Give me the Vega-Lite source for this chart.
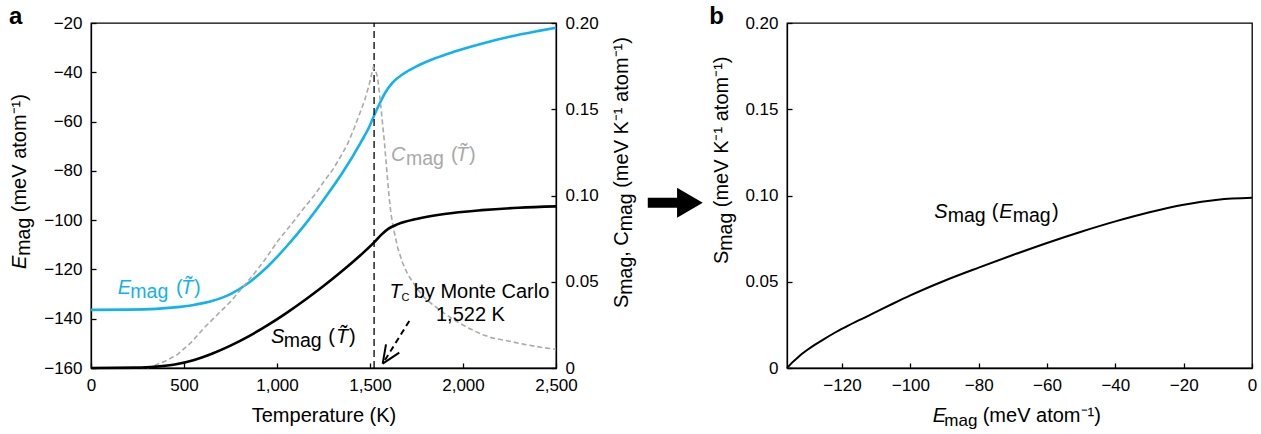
{
  "$schema": "https://vega.github.io/schema/vega-lite/v6.json",
  "padding": {"left": 8, "top": 4, "right": 5, "bottom": 5},
  "bounds": "flush",
  "spacing": 231,
  "config": {
    "font": "Liberation Sans",
    "view": {"stroke": "black", "strokeWidth": 1.3},
    "axis": {
      "domainColor": "black", "domainWidth": 1.3,
      "tickColor": "black", "tickWidth": 1.3, "tickSize": -5,
      "labelFontSize": 17, "labelColor": "black", "labelPadding": 14,
      "labelFlush": false, "labelOverlap": false, "grid": false,
      "titleFontSize": 20, "titleFontWeight": "normal", "titleColor": "black", "titlePadding": 12
    }
  },
  "datasets": {
    "emag": [
      {"T": 0, "E": -136.4}, {"T": 200, "E": -136.3}, {"T": 350, "E": -136.0}, {"T": 450, "E": -135.4},
      {"T": 550, "E": -134.4}, {"T": 650, "E": -132.8}, {"T": 750, "E": -130.0}, {"T": 850, "E": -125.3},
      {"T": 950, "E": -118.8}, {"T": 1050, "E": -110.8}, {"T": 1150, "E": -101.8}, {"T": 1250, "E": -91.8},
      {"T": 1350, "E": -81.0}, {"T": 1450, "E": -68.5}, {"T": 1500, "E": -61.5}, {"T": 1522, "E": -57.5},
      {"T": 1550, "E": -53.0}, {"T": 1580, "E": -48.5}, {"T": 1620, "E": -44.3}, {"T": 1680, "E": -40.6},
      {"T": 1750, "E": -37.6}, {"T": 1850, "E": -34.3}, {"T": 1950, "E": -31.7}, {"T": 2100, "E": -28.4},
      {"T": 2250, "E": -25.6}, {"T": 2400, "E": -23.3}, {"T": 2500, "E": -21.9}
    ],
    "smag": [
      {"T": 0, "S": 0}, {"T": 250, "S": 0.0002}, {"T": 350, "S": 0.0008}, {"T": 450, "S": 0.002},
      {"T": 550, "S": 0.0045}, {"T": 650, "S": 0.0083}, {"T": 750, "S": 0.013}, {"T": 850, "S": 0.0185},
      {"T": 950, "S": 0.0248}, {"T": 1050, "S": 0.0318}, {"T": 1150, "S": 0.0394}, {"T": 1250, "S": 0.0475},
      {"T": 1350, "S": 0.0562}, {"T": 1450, "S": 0.0655}, {"T": 1522, "S": 0.0728}, {"T": 1560, "S": 0.0772},
      {"T": 1600, "S": 0.0808}, {"T": 1650, "S": 0.0834}, {"T": 1750, "S": 0.0864}, {"T": 1900, "S": 0.0893},
      {"T": 2100, "S": 0.0915}, {"T": 2300, "S": 0.0929}, {"T": 2500, "S": 0.0937}
    ],
    "cmag": [
      {"T": 0, "S": 0}, {"T": 300, "S": 0}, {"T": 330, "S": 0.001}, {"T": 400, "S": 0.004},
      {"T": 466, "S": 0.0079}, {"T": 540, "S": 0.015}, {"T": 609, "S": 0.0234}, {"T": 680, "S": 0.031},
      {"T": 753, "S": 0.0388}, {"T": 860, "S": 0.0524}, {"T": 930, "S": 0.062}, {"T": 1004, "S": 0.0736},
      {"T": 1075, "S": 0.083}, {"T": 1147, "S": 0.093}, {"T": 1200, "S": 0.1}, {"T": 1254, "S": 0.1084},
      {"T": 1300, "S": 0.115}, {"T": 1344, "S": 0.1229}, {"T": 1380, "S": 0.13}, {"T": 1416, "S": 0.1393},
      {"T": 1450, "S": 0.149}, {"T": 1470, "S": 0.1548}, {"T": 1495, "S": 0.164}, {"T": 1518, "S": 0.1745},
      {"T": 1530, "S": 0.1725}, {"T": 1541, "S": 0.1683}, {"T": 1550, "S": 0.16}, {"T": 1559, "S": 0.1509},
      {"T": 1568, "S": 0.141}, {"T": 1577, "S": 0.1316}, {"T": 1586, "S": 0.12}, {"T": 1595, "S": 0.1084},
      {"T": 1604, "S": 0.098}, {"T": 1613, "S": 0.0891}, {"T": 1630, "S": 0.079}, {"T": 1649, "S": 0.0697},
      {"T": 1675, "S": 0.061}, {"T": 1703, "S": 0.0543}, {"T": 1750, "S": 0.0465}, {"T": 1792, "S": 0.0408},
      {"T": 1840, "S": 0.0365}, {"T": 1882, "S": 0.033}, {"T": 1950, "S": 0.028}, {"T": 2025, "S": 0.0234},
      {"T": 2100, "S": 0.0195}, {"T": 2151, "S": 0.0176}, {"T": 2250, "S": 0.0155}, {"T": 2330, "S": 0.0137},
      {"T": 2420, "S": 0.012}, {"T": 2500, "S": 0.0108}
    ],
    "sofe": [
      {"E": -136.1, "S": 0}, {"E": -135.3, "S": 0.0017}, {"E": -134.3, "S": 0.0037}, {"E": -133, "S": 0.006},
      {"E": -131.5, "S": 0.0085}, {"E": -130, "S": 0.0107}, {"E": -128, "S": 0.0134}, {"E": -125.5, "S": 0.0165},
      {"E": -122.5, "S": 0.02}, {"E": -119, "S": 0.0237}, {"E": -115, "S": 0.0277}, {"E": -110, "S": 0.0325},
      {"E": -105, "S": 0.0374}, {"E": -100, "S": 0.0421}, {"E": -90, "S": 0.0506}, {"E": -80, "S": 0.0582},
      {"E": -70, "S": 0.0655}, {"E": -60, "S": 0.0725}, {"E": -50, "S": 0.079}, {"E": -40, "S": 0.085},
      {"E": -30, "S": 0.0903}, {"E": -20, "S": 0.0947}, {"E": -10, "S": 0.0976}, {"E": 0, "S": 0.0987}
    ]
  },
  "hconcat": [
    {
      "width": 465,
      "height": 345,
      "encoding": {
        "x": {
          "field": "T", "type": "quantitative",
          "scale": {"domain": [0, 2500], "nice": false, "zero": false},
          "axis": {"values": [0, 500, 1000, 1500, 2000, 2500], "format": ",d", "title": "Temperature (K)"}
        }
      },
      "layer": [
        {
          "encoding": {
            "y": {
              "field": "E", "type": "quantitative",
              "scale": {"domain": [-160, -20], "nice": false, "zero": false},
              "axis": {"orient": "left", "values": [-160, -140, -120, -100, -80, -60, -40, -20], "title": null}
            }
          },
          "layer": [
            {
              "data": {"name": "emag"},
              "mark": {"type": "line", "color": "#12b3ec", "strokeWidth": 2.6, "interpolate": "monotone"}
            },
            {
              "data": {"values": [{"T": 1522, "E": -160, "E2": -20}]},
              "mark": {"type": "rule", "color": "black", "strokeWidth": 1.3, "strokeDash": [7, 4]},
              "encoding": {"y2": {"field": "E2"}}
            },
            {
              "data": {"values": [{"T": -440.9, "E": -20.41, "t": "a"}]},
              "mark": {"type": "text", "fontSize": 24, "fontWeight": "bold", "align": "left", "baseline": "alphabetic", "color": "black"},
              "encoding": {"text": {"field": "t"}}
            },
            {
              "data": {"values": [{"T": -349.5, "E": -119.83, "t": "E"}]},
              "mark": {"type": "text", "angle": 270, "fontSize": 20, "fontStyle": "italic", "align": "left", "baseline": "alphabetic", "color": "black"},
              "encoding": {"text": {"field": "t"}}
            },
            {
              "data": {"values": [{"T": -328.0, "E": -114.43, "t": "mag"}]},
              "mark": {"type": "text", "angle": 270, "fontSize": 19.5, "align": "left", "baseline": "alphabetic", "color": "black"},
              "encoding": {"text": {"field": "t"}}
            },
            {
              "data": {"values": [{"T": -349.5, "E": -96.78, "t": "(meV atom\u207b\u00b9)"}]},
              "mark": {"type": "text", "angle": 270, "fontSize": 20, "align": "left", "baseline": "alphabetic", "color": "black"},
              "encoding": {"text": {"field": "t"}}
            },
            {
              "data": {"values": [{"T": 143.5, "E": -130.1, "t": "E"}, {"T": 483.9, "E": -130.1, "t": "T\u0303"}]},
              "mark": {"type": "text", "fontSize": 20, "fontStyle": "italic", "align": "left", "baseline": "alphabetic", "color": "#12b3ec"},
              "encoding": {"text": {"field": "t"}}
            },
            {
              "data": {"values": [{"T": 211.3, "E": -131.72, "t": "mag"}]},
              "mark": {"type": "text", "fontSize": 19.5, "align": "left", "baseline": "alphabetic", "color": "#12b3ec"},
              "encoding": {"text": {"field": "t"}}
            },
            {
              "data": {"values": [{"T": 457.0, "E": -130.1, "t": "("}, {"T": 553.8, "E": -130.1, "t": ")"}]},
              "mark": {"type": "text", "fontSize": 20, "align": "left", "baseline": "alphabetic", "color": "#12b3ec"},
              "encoding": {"text": {"field": "t"}}
            }
          ]
        },
        {
          "encoding": {
            "y": {
              "field": "S", "type": "quantitative",
              "scale": {"domain": [0, 0.2], "nice": false, "zero": false},
              "axis": {
                "orient": "right", "values": [0, 0.05, 0.1, 0.15, 0.2], "title": null,
                "labelExpr": "datum.value == 0 ? '0' : format(datum.value, '.2f')"
              }
            }
          },
          "layer": [
            {
              "data": {"name": "cmag"},
              "mark": {"type": "line", "color": "#aaaaaa", "strokeWidth": 1.6, "strokeDash": [5, 3], "interpolate": "linear"}
            },
            {
              "data": {"name": "smag"},
              "mark": {"type": "line", "color": "black", "strokeWidth": 2.6, "interpolate": "monotone"}
            },
            {
              "data": {"values": [{"T": 1711.3, "S": 0.02725, "T2": 1568.3, "S2": 0.0025}]},
              "mark": {"type": "rule", "color": "black", "strokeWidth": 2, "strokeDash": [6, 4]},
              "encoding": {"x2": {"field": "T2"}, "y2": {"field": "S2"}}
            },
            {
              "data": {"values": [
                {"T": 1568.3, "S": 0.0025, "T2": 1586, "S2": 0.01374},
                {"T": 1568.3, "S": 0.0025, "T2": 1657.5, "S2": 0.00887}
              ]},
              "mark": {"type": "rule", "color": "black", "strokeWidth": 2},
              "encoding": {"x2": {"field": "T2"}, "y2": {"field": "S2"}}
            },
            {
              "data": {"values": [
                {"T": 2887.1, "S": 0.03478, "t": "S"},
                {"T": 2887.1, "S": 0.06446, "t": ", C"},
                {"T": 2887.1, "S": 0.10446, "t": "(meV K\u207b\u00b9 atom\u207b\u00b9)"}
              ]},
              "mark": {"type": "text", "angle": 270, "fontSize": 20, "align": "left", "baseline": "alphabetic", "color": "black"},
              "encoding": {"text": {"field": "t"}}
            },
            {
              "data": {"values": [{"T": 2908.6, "S": 0.04249, "t": "mag"}, {"T": 2908.6, "S": 0.07925, "t": "mag"}]},
              "mark": {"type": "text", "angle": 270, "fontSize": 19.5, "align": "left", "baseline": "alphabetic", "color": "black"},
              "encoding": {"text": {"field": "t"}}
            },
            {
              "data": {"values": [
                {"T": 967.7, "S": 0.01467, "t": "S"},
                {"T": 1317.2, "S": 0.01467, "t": "T\u0303"},
                {"T": 1604.8, "S": 0.04075, "t": "T"}
              ]},
              "mark": {"type": "text", "fontSize": 20, "fontStyle": "italic", "align": "left", "baseline": "alphabetic", "color": "black"},
              "encoding": {"text": {"field": "t"}}
            },
            {
              "data": {"values": [{"T": 1036.0, "S": 0.01235, "t": "mag"}]},
              "mark": {"type": "text", "fontSize": 19.5, "align": "left", "baseline": "alphabetic", "color": "black"},
              "encoding": {"text": {"field": "t"}}
            },
            {
              "data": {"values": [
                {"T": 1275.3, "S": 0.01467, "t": "("},
                {"T": 1387.1, "S": 0.01467, "t": ")"},
                {"T": 1735, "S": 0.04075, "t": "by Monte Carlo"},
                {"T": 1854.8, "S": 0.02725, "t": "1,522 K"}
              ]},
              "mark": {"type": "text", "fontSize": 20, "align": "left", "baseline": "alphabetic", "color": "black"},
              "encoding": {"text": {"field": "t"}}
            },
            {
              "data": {"values": [{"T": 1669.4, "S": 0.03884, "t": "C"}]},
              "mark": {"type": "text", "fontSize": 11, "align": "left", "baseline": "alphabetic", "color": "black"},
              "encoding": {"text": {"field": "t"}}
            },
            {
              "data": {"values": [{"T": 1612.9, "S": 0.12, "t": "C"}, {"T": 1962.4, "S": 0.12, "t": "T\u0303"}]},
              "mark": {"type": "text", "fontSize": 20, "fontStyle": "italic", "align": "left", "baseline": "alphabetic", "color": "#a9a9a9"},
              "encoding": {"text": {"field": "t"}}
            },
            {
              "data": {"values": [{"T": 1693.5, "S": 0.11768, "t": "mag"}]},
              "mark": {"type": "text", "fontSize": 19.5, "align": "left", "baseline": "alphabetic", "color": "#a9a9a9"},
              "encoding": {"text": {"field": "t"}}
            },
            {
              "data": {"values": [{"T": 1935.5, "S": 0.12, "t": "("}, {"T": 2032.3, "S": 0.12, "t": ")"}]},
              "mark": {"type": "text", "fontSize": 20, "align": "left", "baseline": "alphabetic", "color": "#a9a9a9"},
              "encoding": {"text": {"field": "t"}}
            }
          ]
        }
      ],
      "resolve": {"scale": {"y": "independent"}}
    },
    {
      "width": 465,
      "height": 345,
      "encoding": {
        "x": {
          "field": "E", "type": "quantitative",
          "scale": {"domain": [-136.1, 0], "nice": false, "zero": false},
          "axis": {"values": [-120, -100, -80, -60, -40, -20, 0], "title": null}
        },
        "y": {
          "field": "S", "type": "quantitative",
          "scale": {"domain": [0, 0.2], "nice": false, "zero": false},
          "axis": {
            "values": [0, 0.05, 0.1, 0.15, 0.2], "title": null,
            "labelExpr": "datum.value == 0 ? '0' : format(datum.value, '.2f')"
          }
        }
      },
      "layer": [
        {
          "data": {"name": "sofe"},
          "mark": {"type": "line", "color": "black", "strokeWidth": 2, "interpolate": "monotone"}
        },
        {
          "data": {"values": [{"E": -168.8, "S": 0.0958}]},
          "mark": {
            "type": "point",
            "shape": "M-1,-0.18L0.065,-0.18L0.065,-0.545L1,0L0.065,0.545L0.065,0.18L-1,0.18Z",
            "size": 3025, "filled": true, "color": "black", "opacity": 1, "strokeWidth": 0
          }
        },
        {
          "data": {"values": [{"E": -158.84, "S": 0.19925, "t": "b"}]},
          "mark": {"type": "text", "fontSize": 24, "fontWeight": "bold", "align": "left", "baseline": "alphabetic", "color": "black"},
          "encoding": {"text": {"field": "t"}}
        },
        {
          "data": {"values": [
            {"E": -153.37, "S": 0.06029, "t": "S"},
            {"E": -153.37, "S": 0.09322, "t": "(meV K\u207b\u00b9 atom\u207b\u00b9)"}
          ]},
          "mark": {"type": "text", "angle": 270, "fontSize": 20, "align": "left", "baseline": "alphabetic", "color": "black"},
          "encoding": {"text": {"field": "t"}}
        },
        {
          "data": {"values": [{"E": -152.2, "S": 0.068, "t": "mag"}]},
          "mark": {"type": "text", "angle": 270, "fontSize": 19.5, "align": "left", "baseline": "alphabetic", "color": "black"},
          "encoding": {"text": {"field": "t"}}
        },
        {
          "data": {"values": [
            {"E": -92.99, "S": 0.08713, "t": "S"},
            {"E": -73.96, "S": 0.08713, "t": "E"},
            {"E": -93.46, "S": -0.0313, "t": "E"}
          ]},
          "mark": {"type": "text", "fontSize": 20, "fontStyle": "italic", "align": "left", "baseline": "alphabetic", "color": "black"},
          "encoding": {"text": {"field": "t"}}
        },
        {
          "data": {"values": [
            {"E": -89.07, "S": 0.08481, "t": "mag"},
            {"E": -70.04, "S": 0.08481, "t": "mag"}
          ]},
          "mark": {"type": "text", "fontSize": 19.5, "align": "left", "baseline": "alphabetic", "color": "black"},
          "encoding": {"text": {"field": "t"}}
        },
        {
          "data": {"values": [{"E": -90.06, "S": -0.03362, "t": "mag"}]},
          "mark": {"type": "text", "fontSize": 17, "align": "left", "baseline": "alphabetic", "color": "black"},
          "encoding": {"text": {"field": "t"}}
        },
        {
          "data": {"values": [
            {"E": -76.19, "S": 0.08713, "t": "("},
            {"E": -58.54, "S": 0.08713, "t": ")"},
            {"E": -78.82, "S": -0.0313, "t": "(meV atom\u207b\u00b9)"}
          ]},
          "mark": {"type": "text", "fontSize": 20, "align": "left", "baseline": "alphabetic", "color": "black"},
          "encoding": {"text": {"field": "t"}}
        }
      ]
    }
  ]
}
